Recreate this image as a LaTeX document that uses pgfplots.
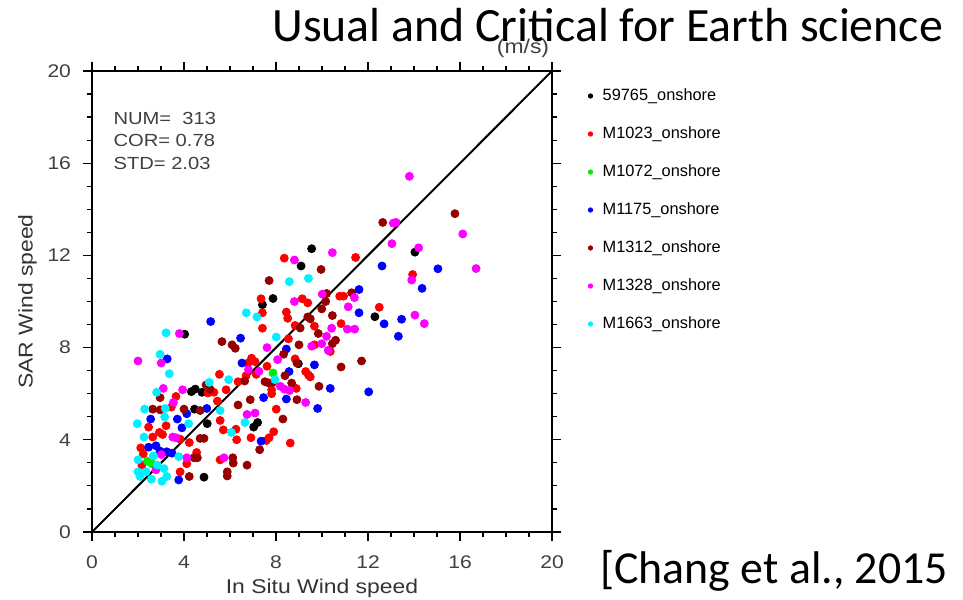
\documentclass[border=0pt]{standalone}
\usepackage{fontspec}
\setmainfont{Liberation Sans}
\newfontfamily\ncl[FakeStretch=1.15]{Liberation Sans}
\newfontfamily\calibri{Carlito}
\usepackage{pgfplots}
\pgfplotsset{compat=1.18}
\definecolor{dkred}{RGB}{150,0,0}
\definecolor{mgn}{RGB}{255,0,255}
\definecolor{cyn}{RGB}{0,240,255}
\definecolor{grn}{RGB}{0,235,0}
\begin{document}
\begin{tikzpicture}
\useasboundingbox (0,0) rectangle (481.5bp,300bp);
\begin{axis}[
 scale only axis, width=230bp, height=230.5bp,
 at={(46bp,34bp)}, anchor=south west,
 xmin=0,xmax=20,ymin=0,ymax=20,
 xtick={0,4,...,20}, ytick={0,4,...,20},
 minor tick num=3,
 tick align=outside,
 major tick length=4.5bp, minor tick length=2.5bp,
 axis line style={line width=0.8bp},
 every tick/.style={black, line width=0.6bp},
 /pgf/number format/assume math mode=true,
 tick label style={font=\ncl\fontsize{9.2}{10}\selectfont, text=black!75},
 xticklabel style={yshift=-4bp},
 yticklabel style={xshift=-2.5bp},
 xlabel={In Situ Wind speed}, ylabel={SAR Wind speed},
 label style={font=\ncl\fontsize{10}{12}\selectfont, text=black!80},
 xlabel style={at={(axis description cs:0.5,-0.122)},anchor=center},
 ylabel style={at={(axis description cs:-0.14,0.5)},anchor=center},
 legend style={at={(axis description cs:1.065,0.98)}, anchor=north west, draw=none, fill=none,
   font=\fontsize{8.2}{9}\selectfont, row sep=7.6bp, column sep=3bp},
 legend cell align=left,
 legend image post style={mark size=1.1bp},
 mark size=2bp,
 clip=false,
]
\addplot[only marks, mark=*, draw=black, fill=black] coordinates {
(4.03,8.58) (4.49,6.20) (4.32,6.09) (4.78,6.06) (4.46,5.33) (5.01,4.70) (4.87,2.38) (7.20,4.75) (7.03,4.55) (8.97,7.30) (7.87,10.13) (7.41,9.86) (9.09,11.54) (9.55,12.29) (12.30,9.34) (14.04,12.14)
};
\addlegendentry{59765\_onshore}
\addplot[only marks, mark=*, draw=red, fill=red] coordinates {
(13.94,11.17) (12.49,9.75)
(8.36,11.88) (11.46,11.91) (7.35,10.12) (9.14,10.12) (9.38,9.94) (10.77,10.23) (10.94,10.23) (7.41,9.51) (8.45,9.54) (8.51,9.27) (8.83,8.96) (9.67,8.93) (10.83,9.04) (7.41,8.84)
(8.54,8.38) (9.67,8.12) (10.36,7.83) (6.94,7.54) (7.09,7.39) (8.83,7.51) (7.61,7.19) (9.29,6.96) (9.41,6.81) (9.49,6.73) (7.14,6.84) (8.88,6.23) (7.81,6.17) (7.81,6.00) (8.01,5.33) (7.90,4.35) (7.70,4.09) (7.58,3.97) (8.62,3.86) (6.91,4.09)
(6.78,7.33) (5.54,6.84) (6.35,6.52) (6.70,6.78) (3.65,5.88) (5.04,6.03) (5.30,6.06) (5.83,6.17) (5.45,5.68) (3.45,5.42) (2.46,4.55) (3.22,4.61) (5.57,4.84) (5.71,4.43) (6.26,4.46) (2.93,4.32) (3.07,4.23) (2.64,4.12) (3.83,4.03) (4.23,3.88) (2.12,3.65) (2.23,3.39) (4.55,3.45) (2.17,2.90) (4.12,2.96) (3.83,2.61) (5.57,3.13) (6.29,4.0)
};
\addlegendentry{M1023\_onshore}
\addplot[only marks, mark=*, draw=grn, fill=grn] coordinates {
(7.87,6.90) (2.41,3.07) (2.61,2.96)
};
\addlegendentry{M1072\_onshore}
\addplot[only marks, mark=*, draw=blue, fill=blue] coordinates {
(12.61,11.54) (15.04,11.42) (14.35,10.57) (12.70,9.03) (13.46,9.23) (13.32,8.49) (12.03,6.08)
(11.61,10.52) (11.61,9.51)
(8.45,7.94) (8.57,6.96) (9.67,7.25) (10.36,6.23) (7.46,5.83) (8.45,5.77) (9.81,5.36) (7.35,3.94)
(5.16,9.13) (6.46,8.41) (3.27,7.51) (6.52,7.33) (4.12,5.13) (4.99,5.36) (2.55,4.90) (3.71,4.90) (3.91,4.52) (2.46,3.68) (2.78,3.74) (2.96,3.51) (3.25,3.48) (3.48,3.42) (3.77,2.26)
};
\addlegendentry{M1175\_onshore}
\addplot[only marks, mark=*, draw=dkred, fill=dkred] coordinates {
(12.64,13.43) (15.78,13.81)
(9.96,11.39) (7.70,10.91) (10.20,10.35) (10.16,10.0) (11.29,10.38) (9.99,9.68) (10.45,9.39) (9.38,9.33) (9.49,9.25) (9.05,8.85)
(9.84,8.61) (9.0,8.12) (10.45,8.17) (10.59,8.32) (11.72,7.42) (8.33,7.71) (8.91,7.33) (10.83,7.16) (8.39,6.78) (7.52,6.52) (7.67,6.47) (7.87,6.50) (8.68,6.46) (9.87,6.32) (6.88,5.74) (8.91,5.74) (8.30,4.90) (7.29,3.57) (6.74,2.90)
(5.65,8.26) (6.09,8.12) (6.23,7.97) (6.64,6.55) (2.96,5.83) (4.96,6.38) (5.13,6.20) (2.64,5.33) (2.96,5.30) (4.0,5.33) (4.70,5.27) (6.35,5.51) (4.70,4.06) (4.87,4.06) (4.43,3.22) (4.58,3.22) (6.12,3.22) (6.14,2.99) (4.23,2.41) (5.88,2.61) (5.88,2.43)
};
\addlegendentry{M1312\_onshore}
\addplot[only marks, mark=*, draw=mgn, fill=mgn] coordinates {
(13.80,15.43) (13.10,13.40) (13.22,13.43) (16.12,12.93) (13.04,12.51) (14.20,12.33) (16.70,11.43) (13.90,10.93) (14.04,9.41) (14.45,9.04)
(10.45,12.12) (8.80,11.80) (8.80,10.0) (10.01,10.32) (11.41,10.17) (11.14,9.77) (10.42,8.84) (11.10,8.80) (11.42,8.80)
(7.61,8.0) (9.55,8.06) (9.99,8.17) (10.20,8.49) (10.27,7.88) (8.07,7.48) (6.80,7.04) (7.26,6.97) (8.19,6.32) (8.36,6.20) (8.59,6.14) (9.29,5.62) (6.74,5.10) (7.09,5.16)
(3.80,8.61) (2.0,7.42) (3.01,7.33) (3.10,6.23) (3.94,6.17) (3.54,5.62) (3.51,4.12) (3.65,4.09) (3.01,3.36) (4.12,3.22) (5.74,3.22) (2.78,2.70)
};
\addlegendentry{M1328\_onshore}
\addplot[only marks, mark=*, draw=cyn, fill=cyn] coordinates {
(8.58,10.86) (9.41,11.0) (6.71,9.51) (7.17,9.33)
(8.01,8.46) (7.96,6.61) (6.65,4.75)
(3.22,8.64) (2.96,7.71) (3.36,6.87) (5.10,6.49) (5.94,6.61) (2.81,6.06) (2.29,5.33) (3.19,5.36) (5.57,5.27) (1.97,4.70) (3.16,4.99) (4.20,4.70) (6.06,4.32) (2.26,4.12) (2.67,3.30) (3.77,3.27) (2.0,3.13) (2.84,2.90) (3.13,2.75) (2.0,2.61) (2.09,2.41) (2.35,2.61) (2.58,2.29) (3.04,2.20) (3.25,2.41)
};
\addlegendentry{M1663\_onshore}
\addplot[black, line width=1bp, forget plot] coordinates {(0,0) (20,20)};
\node[anchor=west, inner sep=0pt, font=\ncl\fontsize{8.8}{10}\selectfont, text=black!75] at (axis description cs:0.046,0.898) {NUM=\ \ 313};
\node[anchor=west, inner sep=0pt, font=\ncl\fontsize{8.8}{10}\selectfont, text=black!75] at (axis description cs:0.046,0.850) {COR=\ 0.78};
\node[anchor=west, inner sep=0pt, font=\ncl\fontsize{8.8}{10}\selectfont, text=black!75] at (axis description cs:0.046,0.800) {STD=\ 2.03};
\node[font=\ncl\fontsize{10}{12}\selectfont, text=black!75] at (axis description cs:0.937,1.050) {(m/s)};
\end{axis}
\node[anchor=base west, inner sep=0pt, font=\calibri\fontsize{24}{27}\selectfont] at (136bp,279bp) {Usual and Critical for Earth science};
\node[anchor=base west, inner sep=0pt, font=\calibri\fontsize{23}{26}\selectfont] at (300bp,8.5bp) {[Chang et al., 2015};
\end{tikzpicture}
\end{document}
